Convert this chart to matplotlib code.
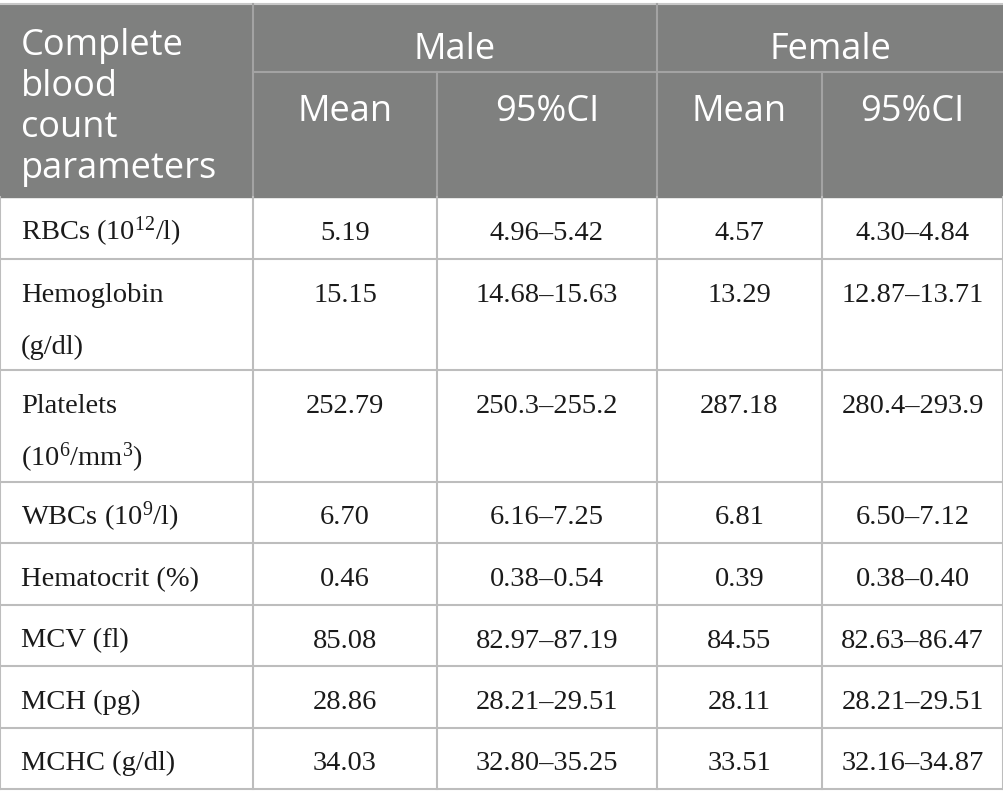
import matplotlib.pyplot as plt
from matplotlib.patches import Rectangle

plt.rcParams["mathtext.default"] = "regular"

# table content
group_labels = ["Male", "Female"]
sub_labels = ["Mean", "95%CI", "Mean", "95%CI"]
corner_label = "Complete\nblood\ncount\nparameters"

parameters = [
    "RBCs (10$^{12}$/l)",
    "Hemoglobin\n(g/dl)",
    "Platelets\n(10$^{6}$/mm$^{3}$)",
    "WBCs (10$^{9}$/l)",
    "Hematocrit (%)",
    "MCV (fl)",
    "MCH (pg)",
    "MCHC (g/dl)",
]
male_mean = ["5.19", "15.15", "252.79", "6.70", "0.46", "85.08", "28.86", "34.03"]
male_ci = ["4.96–5.42", "14.68–15.63", "250.3–255.2", "6.16–7.25",
           "0.38–0.54", "82.97–87.19", "28.21–29.51", "32.80–35.25"]
female_mean = ["4.57", "13.29", "287.18", "6.81", "0.39", "84.55", "28.11", "33.51"]
female_ci = ["4.30–4.84", "12.87–13.71", "280.4–293.9", "6.50–7.12",
             "0.38–0.40", "82.63–86.47", "28.21–29.51", "32.16–34.87"]

# layout in pixels
W, H = 1004, 807
col_edges = [0, 253, 437, 657, 822, 1003]
top, mid, head_bot = 4, 72, 197
header_bg = "#7f807f"
header_line = "#a3a3a3"
body_line = "#bdbdbd"
text_col = "#1a1a1a"
head_font = "Open Sans"
body_font = "Liberation Serif"
head_size = 26
body_size = 20.5

fig = plt.figure(figsize=(W / 100, H / 100), dpi=100)
ax = fig.add_axes([0, 0, 1, 1])
ax.set_xlim(0, W)
ax.set_ylim(H, 0)
ax.axis("off")

# header block
ax.add_patch(Rectangle((0, top), col_edges[-1], head_bot - top, color=header_bg, zorder=0))
ax.plot([col_edges[1], col_edges[-1]], [mid, mid], color=header_line, lw=1.5)
ax.plot([0, col_edges[-1]], [top, top], color="#c8c8c8", lw=1.5)
for x in [col_edges[1], col_edges[3]]:
    ax.plot([x, x], [top, head_bot], color=header_line, lw=1.5)
for x in [col_edges[2], col_edges[4]]:
    ax.plot([x, x], [mid, head_bot], color=header_line, lw=1.5)

for i, lab in enumerate(corner_label.split("\n")):
    ax.text(21, 55 + i * 41, lab, fontsize=head_size, family=head_font, color="white", va="baseline")
for g, lab in enumerate(group_labels):
    xc = (col_edges[1 + 2 * g] + col_edges[3 + 2 * g]) / 2
    ax.text(xc, 59, lab, fontsize=head_size, family=head_font, color="white", ha="center", va="baseline")
for j, lab in enumerate(sub_labels):
    xc = (col_edges[1 + j] + col_edges[2 + j]) / 2
    ax.text(xc, 121, lab, fontsize=head_size, family=head_font, color="white", ha="center", va="baseline")

# body rows
columns = [male_mean, male_ci, female_mean, female_ci]
y = head_bot
for r, name in enumerate(parameters):
    lines = name.split("\n")
    h = 61.5 + 50 * (len(lines) - 1)
    base = y + 43
    for k, ln in enumerate(lines):
        ax.text(21, base + k * 53, ln, fontsize=body_size, family=body_font, color=text_col, va="baseline")
    for j, col in enumerate(columns):
        xc = (col_edges[1 + j] + col_edges[2 + j]) / 2
        ax.text(xc, base, col[r], fontsize=body_size, family=body_font, color=text_col,
                ha="center", va="baseline")
    y += h
    ax.plot([0, col_edges[-1]], [y, y], color=body_line, lw=1.5)

for x in col_edges:
    ax.plot([x, x], [head_bot, y], color=body_line, lw=1.5)

fig.savefig("out.png", dpi=100)
